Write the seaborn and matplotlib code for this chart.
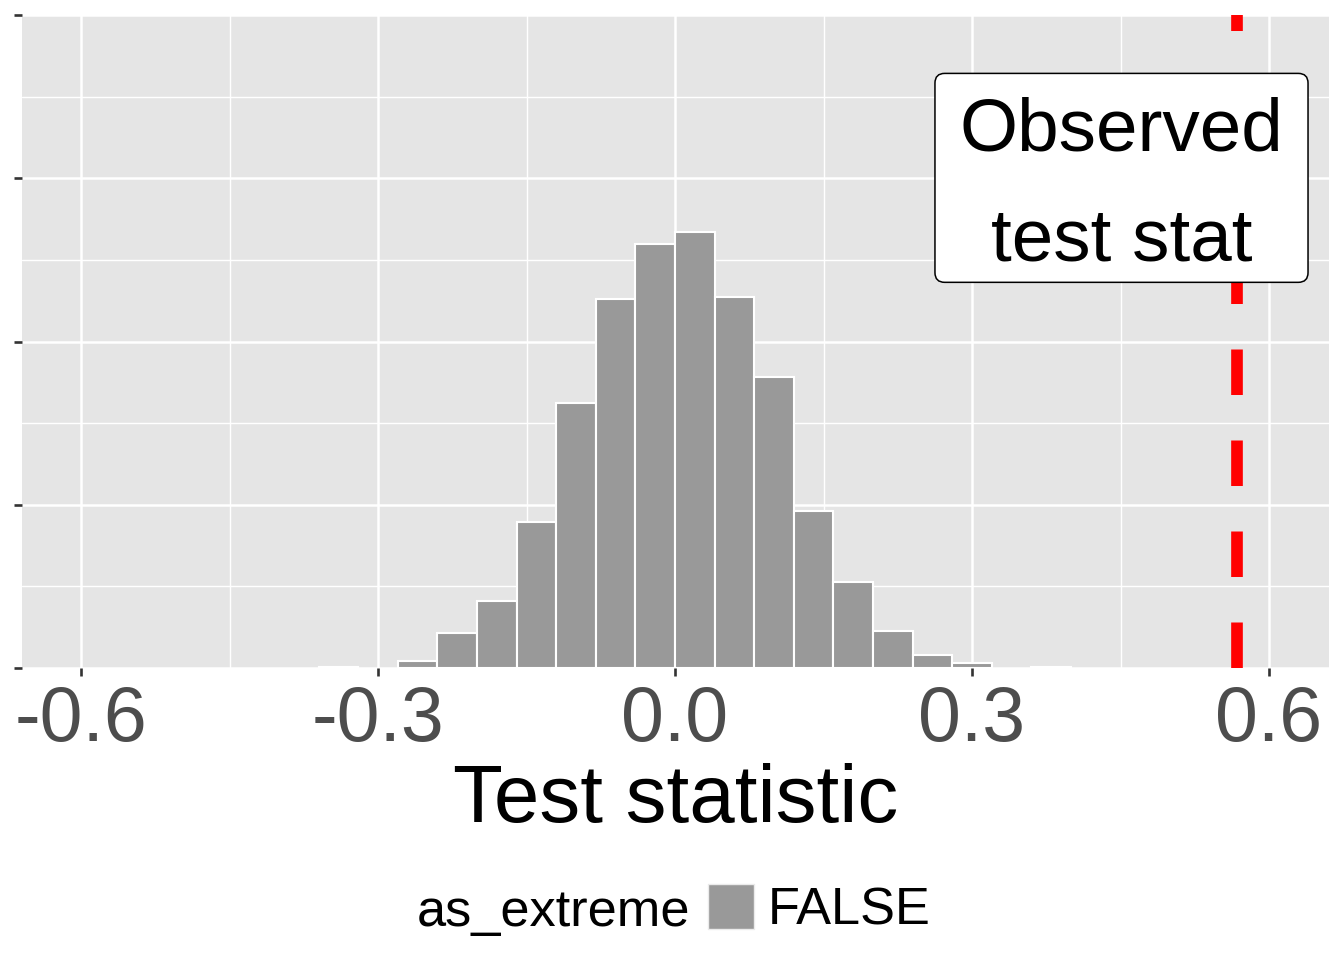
import numpy as np
import pandas as pd
import matplotlib
matplotlib.use("Agg")
import matplotlib.pyplot as plt
import seaborn as sns
from matplotlib.patches import Patch, BoxStyle
from matplotlib.ticker import MultipleLocator, FixedLocator

# ---------------- data ----------------
bin_left = [-0.36, -0.32, -0.28, -0.24, -0.20, -0.16, -0.12, -0.08, -0.04,
            0.00, 0.04, 0.08, 0.12, 0.16, 0.20, 0.24, 0.28, 0.32, 0.36]
counts = [1, 0, 11, 54, 103, 223, 406, 565, 650,
          667, 568, 446, 240, 131, 57, 20, 7, 0, 1]
bin_width = 0.04
observed_stat = 0.568
label_text = "Observed\ntest stat"
label_x = 0.451
label_y = 738
x_ticks = [-0.6, -0.3, 0.0, 0.3, 0.6]
x_tick_labels = ["-0.6", "-0.3", "0.0", "0.3", "0.6"]
y_ticks = [0, 250, 500, 750, 1000]
x_label = "Test statistic"
legend_title = "as_extreme"
legend_labels = ["FALSE"]

# ---------------- style ----------------
sns.set_theme(style="darkgrid")
plt.rcParams["font.family"] = ["Liberation Sans", "DejaVu Sans"]

fig = plt.figure(figsize=(13.44, 9.6), dpi=100)
ax = fig.add_axes([22 / 1344, 1 - 668 / 960, 1307 / 1344, 653 / 960])
ax.set_facecolor("#E5E5E5")

centers = np.round(np.array(bin_left) + bin_width / 2, 3)
edges = [round(b, 3) for b in bin_left] + [round(bin_left[-1] + bin_width, 3)]
df = pd.DataFrame({"stat": centers, "n": counts})

sns.histplot(data=df, x="stat", weights="n", bins=edges, color="#999999",
             edgecolor="white", linewidth=1.5, alpha=1, ax=ax, zorder=2)
for p in list(ax.patches):
    if p.get_height() == 0:
        p.remove()

ax.axvline(observed_stat, color="#FF0000", lw=8.4, linestyle=(0, (3.9, 3.9)),
           zorder=3)


class AsymRound(BoxStyle.Round):
    def __init__(self, padx=0.33, pad_top=0.31, pad_bottom=0.09, rounding_size=0.13):
        super().__init__(pad=0.0, rounding_size=rounding_size)
        self.padx = padx
        self.pad_top = pad_top
        self.pad_bottom = pad_bottom

    def __call__(self, x0, y0, width, height, mutation_size):
        px = self.padx * mutation_size
        pt = self.pad_top * mutation_size
        pb = self.pad_bottom * mutation_size
        return super().__call__(x0 - px, y0 - pb, width + 2 * px,
                                height + pt + pb, mutation_size)


ax.text(label_x, label_y, label_text, ha="center", va="center",
        fontsize=53.8, color="black", linespacing=1.76, zorder=5,
        bbox=dict(boxstyle=AsymRound(), fc="white", ec="black", lw=1.1))

ax.set_xlim(-0.6596, 0.6606)
ax.set_ylim(0, 1000)
ax.xaxis.set_major_locator(FixedLocator(x_ticks))
ax.set_xticklabels(x_tick_labels)
ax.xaxis.set_minor_locator(MultipleLocator(0.15))
ax.yaxis.set_major_locator(FixedLocator(y_ticks))
ax.yaxis.set_minor_locator(MultipleLocator(125))
ax.set_yticklabels([])
ax.set_ylabel("")

ax.grid(which="major", color="white", lw=1.8)
ax.grid(which="minor", color="white", lw=1.0)
ax.set_axisbelow(True)
for s in ax.spines.values():
    s.set_visible(False)

ax.tick_params(axis="both", which="major", length=5.5, width=1.9,
               color="#333333", labelcolor="#4D4D4D", labelsize=55.5, pad=6.0,
               bottom=True, left=True)
ax.tick_params(axis="both", which="minor", length=0)

ax.set_xlabel(x_label, fontsize=58.8, color="black", labelpad=4.5)

# legend
fig.text(690 / 1344, 1 - 926 / 960, legend_title, ha="right", va="baseline",
         fontsize=37.7, color="black")
handles = [Patch(facecolor="#999999", edgecolor="#EBEBEB", lw=1.0)]
fig.legend(handles=handles, labels=legend_labels, loc="center left",
           bbox_to_anchor=(708 / 1344, 1 - 910 / 960), frameon=False,
           fontsize=37.7, handlelength=0.88, handleheight=0.92,
           handletextpad=0.27, borderpad=0, borderaxespad=0,
           labelcolor="black")

fig.savefig("out.png", dpi=100)
